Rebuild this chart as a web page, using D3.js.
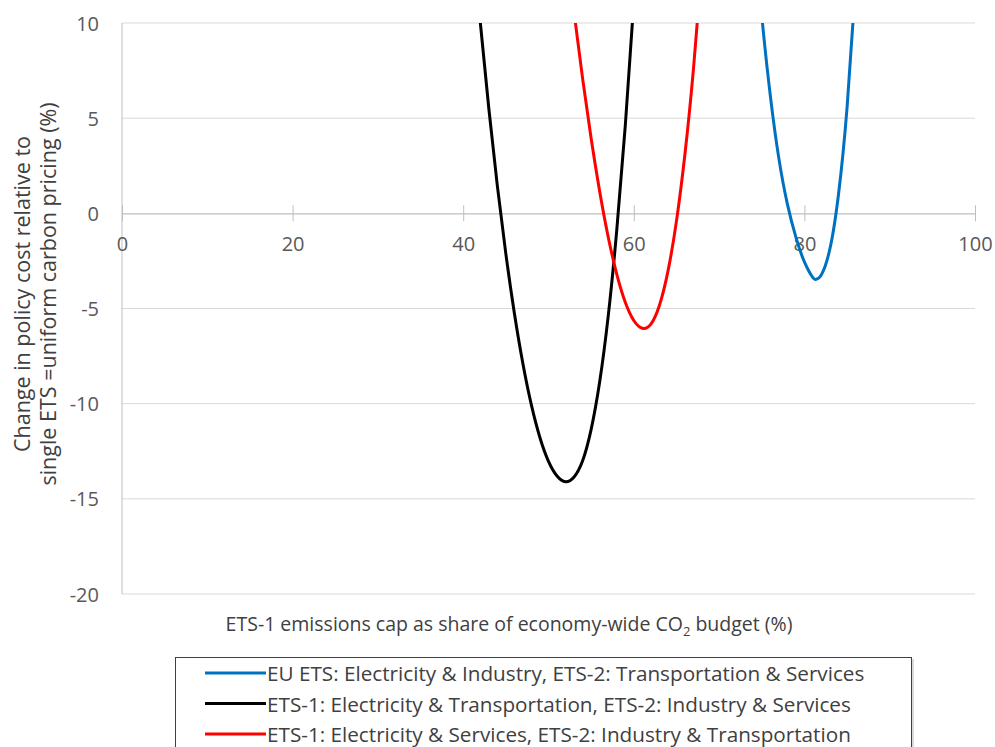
<!DOCTYPE html>
<html>
<head>
<meta charset="utf-8">
<script src="https://cdn.jsdelivr.net/npm/d3@7"></script>
<style>
  html, body { margin: 0; padding: 0; background: #fff; }
  svg { display: block; }
  text { font-family: "Open Sans", Lato, sans-serif; }
</style>
</head>
<body>
<svg id="chart" width="995" height="747"></svg>
<script>
// ---- data ----
const seriesNames = [
  "EU ETS: Electricity & Industry, ETS-2: Transportation & Services",
  "ETS-1: Electricity & Transportation, ETS-2: Industry & Services",
  "ETS-1: Electricity & Services, ETS-2: Industry & Transportation"
];
const seriesColors = ["#0070C0", "#000000", "#FF0000"];

const blueX = [74, 75, 76, 77, 78, 79, 80, 81, 81.4, 82, 83, 84, 85, 86];
const blueY = [15.5, 10.4, 6.2, 2.9, 0.5, -1.25, -2.55, -3.38, -3.46, -3.22, -1.85, 1.0, 5.55, 12.04];

const blackX = [41, 42, 43, 44, 45, 46, 47, 48, 49, 50, 51, 52, 53, 54, 55, 56, 57, 58, 59, 60, 61];
const blackY = [15.05, 10.05, 5.52, 1.46, -2.13, -5.25, -7.9, -10.08, -11.79, -13.03, -13.8, -14.1,
                -13.85, -13.0, -11.35, -8.85, -5.4, -0.9, 4.6, 11.1, 18.6];

const redX = [52, 53, 54, 55, 56, 57, 58, 59, 60, 61, 62, 63, 64, 65, 66, 67, 68];
const redY = [14.3, 10.54, 7.08, 3.93, 1.15, -1.24, -3.19, -4.67, -5.63, -6.04, -5.82, -4.84, -3.05, -0.41, 3.13, 7.62, 13.11];

const xTicks = [0, 20, 40, 60, 80, 100];
const yTicks = [10, 5, 0, -5, -10, -15, -20];

const xTitle = "ETS-1 emissions cap as share of economy-wide CO";
const yTitleLines = ["Change in policy cost relative to", "single ETS =uniform carbon pricing (%)"];

// ---- chart ----
const svg = d3.select("#chart");
const x = d3.scaleLinear().domain([0, 100]).range([122, 975]);
const y = d3.scaleLinear().domain([-20, 10]).range([594, 23]);

// gridlines
svg.append("g").selectAll("line").data(yTicks.filter(d => d !== 0)).join("line")
  .attr("x1", x(0)).attr("x2", x(100))
  .attr("y1", d => y(d)).attr("y2", d => y(d))
  .attr("stroke", "#d9d9d9").attr("stroke-width", 1);

// y axis line
svg.append("line").attr("x1", x(0)).attr("x2", x(0)).attr("y1", y(10)).attr("y2", y(-20))
  .attr("stroke", "#bfbfbf").attr("stroke-width", 1);

// y tick labels
svg.append("g").selectAll("text").data(yTicks).join("text")
  .attr("x", 99).attr("y", d => y(d))
  .attr("text-anchor", "end").attr("dominant-baseline", "central")
  .attr("font-size", 20).attr("fill", "#595959")
  .text(d => d);

// x axis at y=0
const xAxis = d3.axisBottom(x).tickValues(xTicks).tickSize(0).tickFormat(d => d);
const gx = svg.append("g").attr("transform", `translate(0,${y(0)})`).call(xAxis);
gx.select(".domain").attr("stroke", "#bfbfbf").attr("stroke-width", 1.2);
gx.selectAll(".tick line").remove();
gx.selectAll(".tick").append("line")
  .attr("y1", -8).attr("y2", 8).attr("stroke", "#bfbfbf").attr("stroke-width", 1);
gx.selectAll(".tick text")
  .attr("y", 30).attr("dy", 0).attr("dominant-baseline", "central")
  .attr("font-size", 20).attr("fill", "#595959")
  .attr("font-family", "'Open Sans', Lato, sans-serif");

// clip
svg.append("clipPath").attr("id", "plotclip").append("rect")
  .attr("x", x(0)).attr("y", y(10)).attr("width", x(100) - x(0)).attr("height", y(-20) - y(10));

const line = d3.line().x(d => x(d[0])).y(d => y(d[1])).curve(d3.curveNatural);
const series = [
  { xs: blueX, ys: blueY, color: seriesColors[0] },
  { xs: blackX, ys: blackY, color: seriesColors[1] },
  { xs: redX, ys: redY, color: seriesColors[2] }
];
const gl = svg.append("g").attr("clip-path", "url(#plotclip)");
series.forEach(s => {
  gl.append("path").datum(s.xs.map((v, i) => [v, s.ys[i]]))
    .attr("d", line).attr("fill", "none")
    .attr("stroke", s.color).attr("stroke-width", 3)
    .attr("stroke-linejoin", "round");
});

// x title
const xt = svg.append("text").attr("x", 509).attr("y", 631)
  .attr("text-anchor", "middle").attr("font-size", 19.5).attr("fill", "#404040");
xt.append("tspan").text(xTitle);
xt.append("tspan").attr("font-size", 13).attr("dy", 5).text("2");
xt.append("tspan").attr("dy", -5).text(" budget (%)");

// y title
const yt = svg.append("text").attr("transform", "translate(0,294) rotate(-90)")
  .attr("text-anchor", "middle").attr("font-size", 21.5).attr("fill", "#404040");
yt.selectAll("tspan").data(yTitleLines).join("tspan")
  .attr("x", 0).attr("y", (d, i) => 30 + i * 26).text(d => d);

// legend
const lg = svg.append("g");
lg.append("rect").attr("x", 177).attr("y", 659).attr("width", 737).attr("height", 100)
  .attr("fill", "#bfbfbf").attr("opacity", 0.6);
lg.append("rect").attr("x", 175.5).attr("y", 657.5).attr("width", 736).attr("height", 100)
  .attr("fill", "#fff").attr("stroke", "#404040").attr("stroke-width", 1);
seriesNames.forEach((name, i) => {
  const yy = 673 + i * 30.5;
  lg.append("line").attr("x1", 205).attr("x2", 266).attr("y1", yy).attr("y2", yy)
    .attr("stroke", seriesColors[i]).attr("stroke-width", 3);
  lg.append("text").attr("x", 267).attr("y", yy).attr("dominant-baseline", "central")
    .attr("font-size", 20.7).attr("fill", "#404040").text(name);
});
</script>
</body>
</html>
